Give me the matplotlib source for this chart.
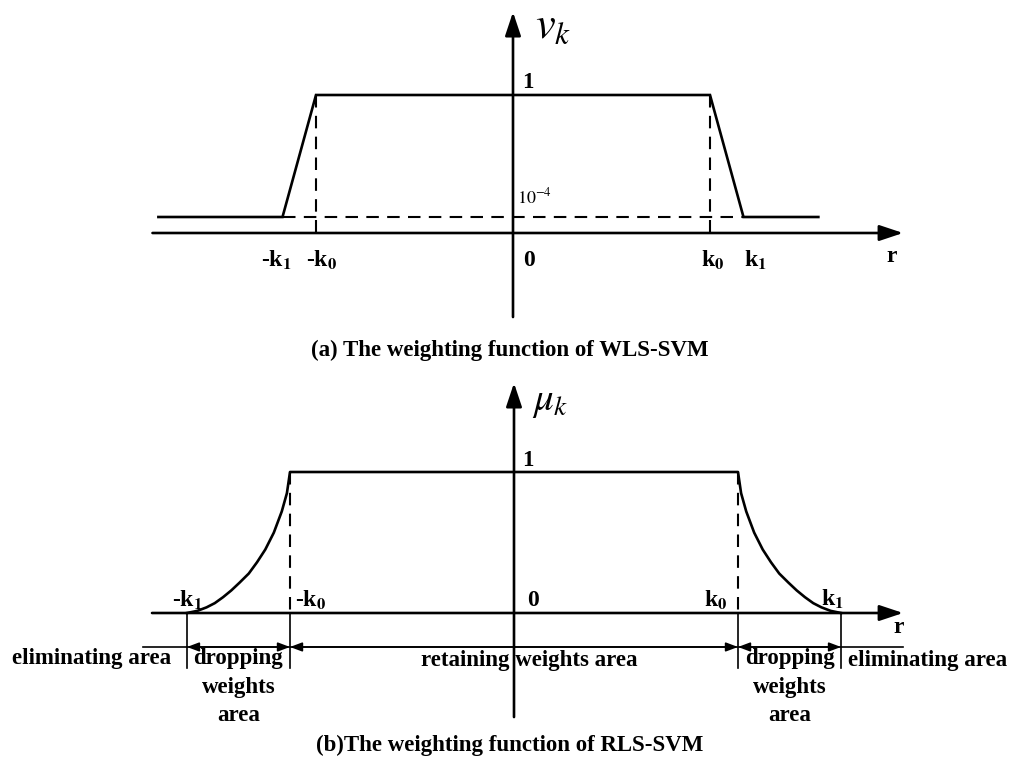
import numpy as np
import matplotlib.pyplot as plt

plt.rcParams['mathtext.fontset'] = 'stix'
plt.rcParams['font.family'] = 'Liberation Serif'

# (a) WLS-SVM: piecewise-linear weight, 1 inside k0, 1e-4 beyond k1
wls_k0 = 1.0
wls_k1 = 1.17
wls_high = 1.0
wls_low = 1e-4
wls_r_left, wls_r_right = -1.80, 1.55

# (b) RLS-SVM: weight decays from 1 at k0 to 0 at k1
rls_k0 = 1.0
rls_k1 = 1.46
rls_high = 1.0
drop_t = [0.0, 0.03, 0.08, 0.157, 0.24, 0.32, 0.40, 0.49, 0.57, 0.65, 0.73, 0.81, 0.90, 1.0]
drop_w = [1.0, 0.85, 0.72, 0.57, 0.45, 0.36, 0.28, 0.215, 0.16, 0.112, 0.07, 0.04, 0.015, 0.0]

caption_a = '(a) The weighting function of WLS-SVM'
caption_b = '(b)The weighting function of RLS-SVM'

fig = plt.figure(figsize=(10.16, 7.62), dpi=100)
W, H = 1016, 762
ax1 = fig.add_axes([0, 1 - 370 / H, 1, 370 / H])
ax2 = fig.add_axes([0, 0, 1, 392 / H])
for ax in (ax1, ax2):
    ax.axis('off')

lw = 1.9
dash = (0, (6, 4))
big_head = dict(arrowstyle='-|>,head_length=0.6,head_width=0.2', mutation_scale=24,
                color='k', lw=lw, shrinkA=0, shrinkB=0)


def axis_arrow(ax, start, tip, props=big_head):
    ax.annotate('', xy=tip, xytext=start, xycoords='data', textcoords='data', arrowprops=props)


def klabel(ax, x, y, s, sub):
    # bold "k" with a stix subscript, leading hyphen kept as a plain hyphen
    ax.text(x, y, s + r'$_\mathbf{%s}$' % sub, fontsize=17, fontweight='bold',
            ha='center', va='center')


lab = dict(fontsize=17, fontweight='bold', ha='center', va='center')

# ---------- top panel ----------
ax1.set_yscale('log')
ax1.set_xlim(-513 / 197, (W - 513) / 197)
ax1.set_ylim(10 ** (-275 / 30.5), 10 ** (95 / 30.5))
r_axis = 10 ** (-138 / 30.5)

axis_arrow(ax1, (-1.83, r_axis), (1.98, r_axis))
axis_arrow(ax1, (0, 10 ** (-7.28)), (0, 10 ** 2.72))

xs = [wls_r_left, -wls_k1, -wls_k0, wls_k0, wls_k1, wls_r_right]
ys = [wls_low, wls_low, wls_high, wls_high, wls_low, wls_low]
ax1.plot(xs, ys, color='k', lw=lw, solid_joinstyle='miter')
ax1.plot([-wls_k1, wls_k1], [wls_low, wls_low], color='k', lw=1.5, ls=dash)
for k in (-wls_k0, wls_k0):
    ax1.plot([k, k], [wls_high, r_axis], color='k', lw=1.5, ls=dash)

y_lab = 10 ** (-165 / 30.5)
klabel(ax1, -wls_k1 - 0.03, y_lab, '-k', '1')
klabel(ax1, -wls_k0 + 0.03, y_lab, '-k', '0')
ax1.text(0.08, y_lab, '0', **lab)
klabel(ax1, wls_k0 + 0.015, y_lab, 'k', '0')
klabel(ax1, wls_k1 + 0.06, y_lab, 'k', '1')
ax1.text(1.92, 10 ** (-162 / 30.5), 'r', **lab)
ax1.text(0.075, 10 ** (13 / 30.5), '1', **dict(lab, fontsize=16.5))
ax1.text(0.02, 10 ** (-102 / 30.5), r'$10^{-4}$', fontsize=13, ha='left', va='center')
ax1.text(0.11, 10 ** (68 / 30.5), r'$v_k$', fontsize=32, ha='left', va='center')

# ---------- bottom panel ----------
ax2.set_xlim(-514 / 224, (W - 514) / 224)
ax2.set_ylim(-149 / 141, 243 / 141)

axis_arrow(ax2, (-1.616, 0), (1.737, 0))
axis_arrow(ax2, (0, -0.738), (0, 1.631))

t = np.array(drop_t)
w = np.array(drop_w)
r_right = rls_k0 + t * (rls_k1 - rls_k0)
curve_x = np.concatenate([-r_right[::-1], r_right])
curve_y = np.concatenate([w[::-1], w])
ax2.plot(curve_x, curve_y * rls_high, color='k', lw=lw)
for k in (-rls_k0, rls_k0):
    ax2.plot([k, k], [rls_high, 0], color='k', lw=1.5, ls=dash)

area_y = -0.241
ax2.plot([-1.656, 1.737], [area_y, area_y], color='k', lw=1.2)
for k in (-rls_k1, -rls_k0, rls_k0, rls_k1):
    ax2.plot([k, k], [0, -0.39], color='k', lw=1.2)

small_head = dict(arrowstyle='<|-|>,head_length=0.4,head_width=0.15', mutation_scale=18,
                  color='k', lw=1.2, shrinkA=0, shrinkB=0)
for a, b in [(-rls_k1, -rls_k0), (-rls_k0, rls_k0), (rls_k0, rls_k1)]:
    ax2.annotate('', xy=(b, area_y), xytext=(a, area_y), arrowprops=small_head)

klabel(ax2, -rls_k1, 0.09, '-k', '1')
klabel(ax2, -rls_k0 + 0.09, 0.09, '-k', '0')
ax2.text(0.085, 0.09, '0', **lab)
klabel(ax2, rls_k0 - 0.1, 0.09, 'k', '0')
klabel(ax2, rls_k1 - 0.04, 0.10, 'k', '1')
ax2.text(1.715, -0.10, 'r', **lab)
ax2.text(0.06, 1.085, '1', **dict(lab, fontsize=16.5))
ax2.text(0.08, 1.50, r'$\mu_k$', fontsize=28, ha='left', va='center')

txt = dict(fontsize=16.5, fontweight='bold', ha='center', va='center')
row1, row2, row3 = -0.32, -0.525, -0.725
ax2.text(-2.241, row1, 'eliminating area', **dict(txt, ha='left'))
ax2.text((-rls_k1 - rls_k0) / 2, row1, 'dropping', **txt)
ax2.text((-rls_k1 - rls_k0) / 2, row2, 'weights', **txt)
ax2.text((-rls_k1 - rls_k0) / 2, row3, 'area', **txt)
ax2.text(0.07, row1 - 0.02, 'retaining weights area', **txt)
ax2.text((rls_k1 + rls_k0) / 2, row1, 'dropping', **txt)
ax2.text((rls_k1 + rls_k0) / 2, row2, 'weights', **txt)
ax2.text((rls_k1 + rls_k0) / 2, row3, 'area', **txt)
ax2.text(1.49, row1 - 0.02, 'eliminating area', **dict(txt, ha='left'))

fig.text(510 / W, 1 - 350 / H, caption_a, **txt)
fig.text(510 / W, 1 - 745 / H, caption_b, **txt)

fig.savefig('out.png', dpi=100)
